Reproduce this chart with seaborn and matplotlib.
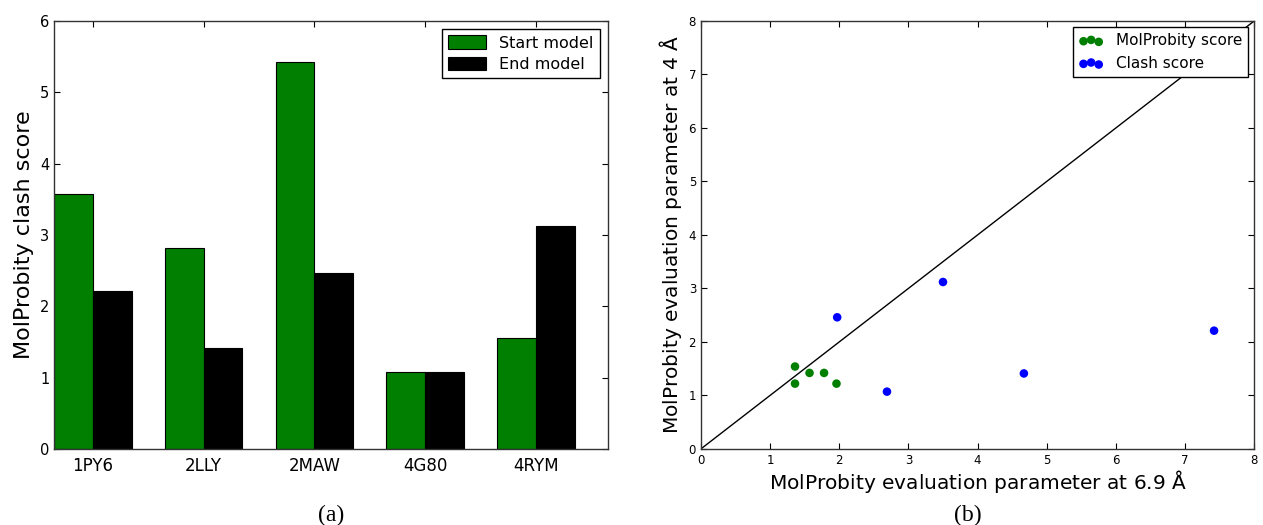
import numpy as np
import pandas as pd
import matplotlib
matplotlib.use("Agg")
import matplotlib.pyplot as plt
import seaborn as sns

# ---- data ----
proteins = ["1PY6", "2LLY", "2MAW", "4G80", "4RYM"]
start_model = [3.58, 2.81, 5.42, 1.08, 1.56]
end_model = [2.21, 1.42, 2.47, 1.08, 3.13]

molp_x = [1.36, 1.36, 1.57, 1.78, 1.96]
molp_y = [1.54, 1.22, 1.42, 1.42, 1.22]
clash_x = [1.97, 2.69, 3.50, 4.67, 7.42]
clash_y = [2.46, 1.07, 3.12, 1.41, 2.21]

sns.set_style("white")
plt.rcParams.update({
    "font.family": ["DejaVu Sans"],
    "text.color": "black", "axes.labelcolor": "black",
    "xtick.color": "black", "ytick.color": "black",
    "xtick.direction": "in", "ytick.direction": "in",
    "xtick.top": True, "ytick.right": True,
    "xtick.bottom": True, "ytick.left": True,
    "xtick.major.size": 4, "ytick.major.size": 4,
    "axes.edgecolor": "#333333", "axes.linewidth": 1.0,
})

fig = plt.figure(figsize=(12.63, 5.25), dpi=100)
ax1 = fig.add_axes([0.0428, 0.145, 0.4385, 0.815])
ax2 = fig.add_axes([0.555, 0.145, 0.438, 0.815])

# ---- (a) bar chart ----
df = pd.DataFrame({
    "protein": proteins * 2,
    "value": start_model + end_model,
    "model": ["Start model"] * len(proteins) + ["End model"] * len(proteins),
})
sns.barplot(data=df, x="protein", y="value", hue="model",
            palette={"Start model": "#007f00", "End model": "#000000"},
            width=0.7, saturation=1, edgecolor="black", linewidth=0.8,
            ax=ax1, errorbar=None)
ax1.set_xlim(-0.35, 4.65)
ax1.set_ylim(0, 6)
ax1.set_xlabel("")
ax1.set_ylabel("MolProbity clash score", fontsize=16)
ax1.tick_params(axis="x", labelsize=12, pad=6)
ax1.tick_params(axis="y", labelsize=10.5)
for s in ax1.spines.values():
    s.set_visible(True)
leg1 = ax1.legend(loc="upper right", fontsize=11.5, fancybox=False,
                  edgecolor="black", framealpha=1, borderaxespad=0.5,
                  handlelength=2.4, handleheight=0.9, labelspacing=0.4,
                  borderpad=0.4)
leg1.get_frame().set_linewidth(1.0)

# ---- (b) scatter ----
ax2.plot([0, 8], [0, 8], color="black", linewidth=1.0)
sns.scatterplot(x=molp_x, y=molp_y, color="#007f00", s=38, edgecolor="none",
                ax=ax2, label="MolProbity score", legend=False)
sns.scatterplot(x=clash_x, y=clash_y, color="#0000ff", s=38, edgecolor="none",
                ax=ax2, label="Clash score", legend=False)
ax2.set_xlim(0, 8)
ax2.set_ylim(0, 8)
ax2.set_xticks(range(0, 9))
ax2.set_yticks(range(0, 9))
ax2.tick_params(labelsize=8.5)
ax2.set_xlabel(r"MolProbity evaluation parameter at 6.9 $\mathrm{\AA}$", fontsize=14.5, labelpad=1)
ax2.set_ylabel(r"MolProbity evaluation parameter at 4 $\mathrm{\AA}$", fontsize=14.5, labelpad=3)
for s in ax2.spines.values():
    s.set_visible(True)
handles = ax2.collections[:2]
leg2 = ax2.legend(handles, ["MolProbity score", "Clash score"], loc="upper right",
                  fontsize=11, fancybox=False, edgecolor="black", framealpha=1,
                  scatterpoints=3, scatteryoffsets=[0.375, 0.5, 0.3125],
                  borderaxespad=0.4, handlelength=1.6)
leg2.get_frame().set_linewidth(1.0)

# captions
fig.text(0.262, 0.008, "(a)", fontsize=17, family="Liberation Serif", ha="center")
fig.text(0.766, 0.008, "(b)", fontsize=17, family="Liberation Serif", ha="center")

fig.savefig("out.png", dpi=100)
